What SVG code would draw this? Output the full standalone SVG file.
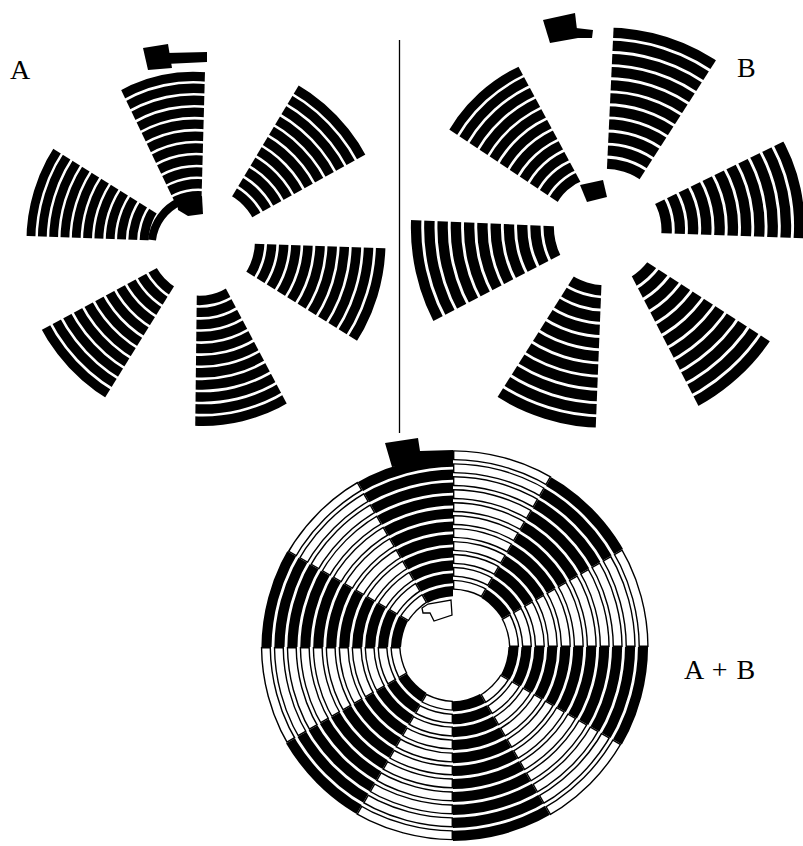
<svg xmlns="http://www.w3.org/2000/svg" xmlns:xlink="http://www.w3.org/1999/xlink" width="803" height="846" viewBox="0 0 803 846">
<style>
.lbl{font-family:"Liberation Serif","Times New Roman",serif;font-size:28px;fill:#000}
.blk{fill:#000}
.out{fill:#fff;stroke:#000;stroke-width:1.3}
</style>
<defs>
<g id="rings" fill="none" stroke="#000" stroke-width="9.4">
<circle r="59.4"/><circle r="71.4"/><circle r="83.4"/><circle r="95.4"/><circle r="107.4"/><circle r="119.4"/><circle r="131.4"/><circle r="143.4"/><circle r="155.4"/><circle r="167.4"/><circle r="179.4"/>
</g>
<g id="ringsW" fill="none" stroke="#fff" stroke-width="6.8">
<circle r="59.4"/><circle r="71.4"/><circle r="83.4"/><circle r="95.4"/><circle r="107.4"/><circle r="119.4"/><circle r="131.4"/><circle r="143.4"/><circle r="155.4"/><circle r="167.4"/><circle r="179.4"/>
</g>
<clipPath id="w"><polygon points="0,0 59.52,-222.16 -59.52,-222.16"/></clipPath>
<clipPath id="wi"><polygon points="0,-5.41 58.17,-222.52 -58.17,-222.52"/></clipPath>
</defs>
<rect width="803" height="846" fill="#fff"/>

<g id="separator"><line x1="399.5" y1="40" x2="399.5" y2="433" stroke="#000" stroke-width="1.3"/></g>

<g id="panelA">
<g id="a-t" transform="translate(200,255) rotate(-12) scale(0.9,1)"><g clip-path="url(#w)"><use href="#rings"/></g></g>
<g id="a-ur" transform="translate(203.2,244.4) rotate(46)"><g clip-path="url(#w)"><use href="#rings" transform="translate(0,-1.3)"/></g></g>
<g id="a-r" transform="translate(198.5,241.7) rotate(107)"><g clip-path="url(#w)"><use href="#rings" transform="translate(0,-1.1) scale(1.01)"/></g></g>
<g id="a-b" transform="translate(197.5,234.9) rotate(166.4) scale(0.95,1)"><g clip-path="url(#w)"><use href="#rings" transform="translate(0,-5.7) scale(1.01)"/></g></g>
<g id="a-ll" transform="translate(199.5,245.2) rotate(226.8)"><g clip-path="url(#w)"><use href="#rings" transform="translate(0,7.1) scale(1.01)"/></g></g>
<g id="a-l" transform="translate(202.7,242.2) rotate(287)"><g clip-path="url(#w)"><use href="#rings" transform="translate(0,-2.6) scale(0.944)"/></g></g>
<g id="a-ends">
<polygon class="blk" points="143,48 168,44 172,68 148,70"/>
<polygon class="blk" points="166,53 207,52 207,62 166,64"/>
<polygon class="blk" points="177,200 202,196 203,214 188,216 178,210"/>
<path d="M152,240 A48,48 0 0 1 180,201.5" fill="none" stroke="#000" stroke-width="8"/>
</g>
<text id="label-a" class="lbl" x="10" y="79">A</text>
</g>

<g id="panelB">
<g id="b-t" transform="translate(603.8,235) rotate(17.7)"><g clip-path="url(#w)"><use href="#rings" transform="translate(0,-6.6) scale(1.093)"/></g></g>
<g id="b-ul" transform="translate(610,236.7) rotate(-42.3) scale(0.93,1)"><g clip-path="url(#w)"><use href="#rings" transform="translate(0,-7.8) scale(1.013)"/></g></g>
<g id="b-r" transform="translate(599.5,231.1) rotate(78) scale(0.93,1)"><g clip-path="url(#w)"><use href="#rings" transform="translate(0,-1.4) scale(1.109)"/></g></g>
<g id="b-lr" transform="translate(613.4,240.5) rotate(137.8)"><g clip-path="url(#w)"><use href="#rings" transform="translate(0,21.9) scale(1.126)"/></g></g>
<g id="b-bl" transform="translate(603.7,229.1) rotate(197.3)"><g clip-path="url(#w)"><use href="#rings" transform="translate(0,4.5) scale(1.103)"/></g></g>
<g id="b-l" transform="translate(610.6,228.7) rotate(257.5)"><g clip-path="url(#w)"><use href="#rings" transform="translate(0,4) scale(1.106)"/></g></g>
<g id="b-ends">
<polygon class="blk" points="543,20 575,13 578,38 550,43"/>
<polygon class="blk" points="576,28 593,30 592,38 577,38"/>
<polygon class="blk" points="580,185 603,180 607,197 587,202"/>
</g>
<text id="label-b" class="lbl" x="737" y="77">B</text>
</g>

<g id="panelAB">
<g id="ab-s0" transform="translate(453,647) rotate(15)"><g clip-path="url(#w)"><use href="#rings" transform="translate(0,2.1) scale(1.08)"/></g><g clip-path="url(#wi)"><use href="#ringsW" transform="translate(0,2.1) scale(1.08)"/></g></g>
<g id="ab-s1" transform="translate(453,647) rotate(45)"><g clip-path="url(#w)"><use href="#rings" transform="translate(0,2.7) scale(1.08)"/></g></g>
<g id="ab-s2" transform="translate(453,647) rotate(75)"><g clip-path="url(#w)"><use href="#rings" transform="translate(0,3.3) scale(1.08)"/></g><g clip-path="url(#wi)"><use href="#ringsW" transform="translate(0,3.3) scale(1.08)"/></g></g>
<g id="ab-s3" transform="translate(453,647) rotate(105)"><g clip-path="url(#w)"><use href="#rings" transform="translate(0,3.9) scale(1.08)"/></g></g>
<g id="ab-s4" transform="translate(453,647) rotate(135)"><g clip-path="url(#w)"><use href="#rings" transform="translate(0,4.5) scale(1.08)"/></g><g clip-path="url(#wi)"><use href="#ringsW" transform="translate(0,4.5) scale(1.08)"/></g></g>
<g id="ab-s5" transform="translate(453,647) rotate(165)"><g clip-path="url(#w)"><use href="#rings" transform="translate(0,5.1) scale(1.08)"/></g></g>
<g id="ab-s6" transform="translate(453,647) rotate(195)"><g clip-path="url(#w)"><use href="#rings" transform="translate(0,5.7) scale(1.08)"/></g><g clip-path="url(#wi)"><use href="#ringsW" transform="translate(0,5.7) scale(1.08)"/></g></g>
<g id="ab-s7" transform="translate(453,647) rotate(225)"><g clip-path="url(#w)"><use href="#rings" transform="translate(0,6.3) scale(1.08)"/></g></g>
<g id="ab-s8" transform="translate(453,647) rotate(255)"><g clip-path="url(#w)"><use href="#rings" transform="translate(0,6.9) scale(1.08)"/></g><g clip-path="url(#wi)"><use href="#ringsW" transform="translate(0,6.9) scale(1.08)"/></g></g>
<g id="ab-s9" transform="translate(453,647) rotate(285)"><g clip-path="url(#w)"><use href="#rings" transform="translate(0,7.5) scale(1.08)"/></g></g>
<g id="ab-s10" transform="translate(453,647) rotate(315)"><g clip-path="url(#w)"><use href="#rings" transform="translate(0,8.1) scale(1.08)"/></g><g clip-path="url(#wi)"><use href="#ringsW" transform="translate(0,8.1) scale(1.08)"/></g></g>
<g id="ab-s11" transform="translate(453,647) rotate(345)"><g clip-path="url(#w)"><use href="#rings" transform="translate(0,8.7) scale(1.08)"/></g></g>
<g id="ab-ends">
<polygon class="blk" points="385,443 418,438 420,451 453,450 453,461 392,467"/>
<polygon class="out" points="422,608 428,604 451,600 452,615 434,621 430,613 423,613"/>
</g>
<text id="label-ab" class="lbl" x="684" y="679" word-spacing="2">A + B</text>
</g>
</svg>
